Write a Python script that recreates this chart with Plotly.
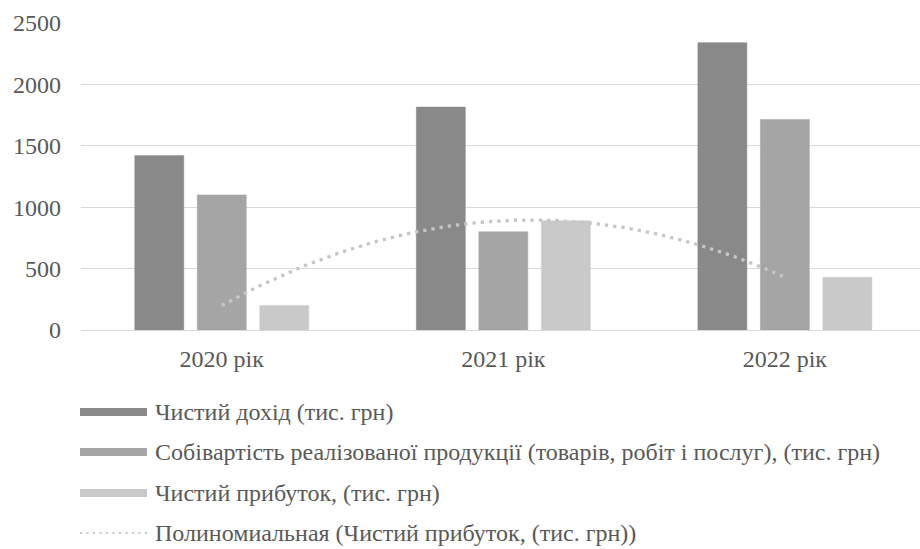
import numpy as np
import plotly.graph_objects as go

# Category labels and series values (тис. грн)
years = ["2020 рік", "2021 рік", "2022 рік"]
income = [1420, 1815, 2340]
cost = [1100, 800, 1715]
profit = [200, 890, 430]

series_names = [
    "Чистий дохід (тис. грн)",
    "Собівартість реалізованої продукції (товарів, робіт і послуг), (тис. грн)",
    "Чистий прибуток, (тис. грн)",
]
trend_name = "Полиномиальная (Чистий прибуток, (тис. грн))"
y_ticks = [0, 500, 1000, 1500, 2000, 2500]

colors = ["#898989", "#a5a5a5", "#c9c9c9"]
trend_color = "#c6c6c6"
text_color = "#595959"
font_family = "Liberation Serif, Times New Roman, serif"
fsize = 24

W, H = 920, 549
m_l, m_r, m_t, m_b = 81, 0, 23, 219

fig = go.Figure()
for name, vals, col in zip(series_names, [income, cost, profit], colors):
    fig.add_trace(go.Bar(
        x=years, y=vals, name=name, showlegend=False,
        marker=dict(color=col, line=dict(color=col, width=0.5)),
    ))

# Second-order polynomial trend of net profit
idx = np.arange(len(profit))
coef = np.polyfit(idx, profit, 2)
xs = np.linspace(0, len(profit) - 1, 80)
fig.add_trace(go.Scatter(
    x=xs, y=np.polyval(coef, xs), mode="lines", showlegend=False,
    line=dict(color=trend_color, width=3.3, dash="3.3px,5px"), xaxis="x2",
))

fig.update_layout(
    width=W, height=H,
    margin=dict(l=m_l, r=m_r, t=m_t, b=m_b),
    paper_bgcolor="white", plot_bgcolor="white",
    barmode="group", bargap=0.334, bargroupgap=0.216,
    font=dict(family=font_family, size=fsize, color=text_color),
    xaxis=dict(range=[-0.5, 2.48], showgrid=False, showline=False,
               ticks="", ticklabelstandoff=12,
               tickfont=dict(family=font_family, size=fsize, color=text_color)),
    xaxis2=dict(range=[-0.5, 2.48], overlaying="x", visible=False),
    yaxis=dict(range=[0, 2500], tickvals=y_ticks, showgrid=True,
               gridcolor="#d9d9d9", gridwidth=1.2, zeroline=True,
               zerolinecolor="#d9d9d9", zerolinewidth=1.2,
               ticks="", ticklabelstandoff=19,
               tickfont=dict(family=font_family, size=fsize, color=text_color)),
)

# Helpers: pixel position -> plot-area ("paper") fraction
plot_w = W - m_l - m_r
plot_h = H - m_t - m_b
def px(v):
    return (v - m_l) / plot_w
def py(v):
    return (H - m_b - v) / plot_h

# Legend drawn below the plot: swatch plus label per row
rows_y = [412, 452, 493, 533]
sw_x0, sw_x1 = px(80), px(147)
for yy, col in zip(rows_y[:3], colors):
    fig.add_shape(type="rect", xref="paper", yref="paper",
                  x0=sw_x0, x1=sw_x1, y0=py(yy + 4), y1=py(yy - 4),
                  fillcolor=col, line=dict(width=0))
fig.add_shape(type="line", xref="paper", yref="paper",
              x0=sw_x0, x1=sw_x1, y0=py(rows_y[3]), y1=py(rows_y[3]),
              line=dict(color=trend_color, width=2, dash="2px,4.5px"))

for yy, label in zip(rows_y, series_names + [trend_name]):
    fig.add_annotation(text=label, xref="paper", yref="paper",
                       x=px(153), y=py(yy), xanchor="left", yanchor="middle",
                       showarrow=False,
                       font=dict(family=font_family, size=fsize, color=text_color))

fig.write_html("out.html")
